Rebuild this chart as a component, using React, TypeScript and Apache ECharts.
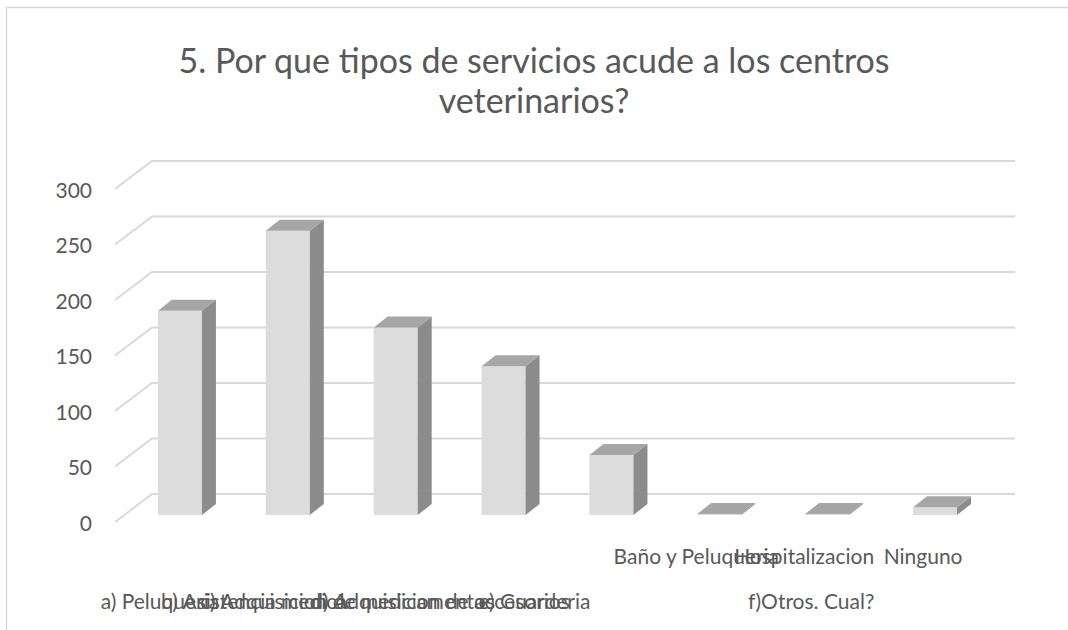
import React, { useEffect, useRef } from "react";
import * as echarts from "echarts";

// ---- data ----
const groupLabels = [
  "a) Peluqueria",
  "b) Asistencia medica",
  "c) Adquisicion de medicamentos",
  "d) Adquisicion de accesorios",
  "e) Guarderia",
  "f)Otros. Cual?",
];
const subLabels = ["", "", "", "", "", "Baño y Peluqueria", "Hospitalizacion", "Ninguno"];
const barGroup = [0, 1, 2, 3, 4, 5, 5, 5];
const values = [184, 256, 169, 134, 54, 1, 1, 7];
const yTicks = [0, 50, 100, 150, 200, 250, 300];
const titleText = "5. Por que tipos de servicios acude a los centros\nveterinarios?";

const categories = subLabels.map((s, i) => s || groupLabels[barGroup[i]]);
// label of a group goes under the middle bar of that group
const groupLabelAt = categories.map((_, i) => {
  const g = barGroup[i];
  const members = barGroup.map((b, j) => (b === g ? j : -1)).filter((j) => j >= 0);
  const mid = members[Math.floor(members.length / 2)];
  return mid === i ? groupLabels[g] : "";
});

// ---- 3D look / label nudges (px to the left) ----
const WALL_DX = 37;
const WALL_DY = -28;
const BAR_DX = 11;
const BAR_DY = -7;
const DEPTH_DX = 14;
const DEPTH_DY = -11;
const BAR_RATIO = 0.408;
const TEXT = "#595959";
const FONT = "Lato";
const LABEL_SIZE = 21;
const subShift = [0, 0, 0, 0, 0, 12, 12, 1];
const groupShift = [9, 23, 37, 52, 66, 0, 5, 0];

const rich = (shifts: number[]) => {
  const r: Record<string, any> = {};
  shifts.forEach((s, i) => {
    r["s" + i] = {
      fontSize: LABEL_SIZE,
      color: TEXT,
      fontFamily: FONT,
      padding: [0, 2 * s, 0, 0],
    };
  });
  return r;
};

export default function App() {
  const ref = useRef<HTMLDivElement>(null);
  useEffect(() => {
    if (!ref.current) return;
    const chart = echarts.init(ref.current, undefined, { renderer: "svg" });
    chart.setOption({
      animation: false,
      backgroundColor: "#ffffff",
      textStyle: { fontFamily: FONT },
      title: {
        text: titleText,
        left: "center",
        top: 34,
        textStyle: { fontFamily: FONT, fontSize: 34, fontWeight: "normal", color: TEXT, lineHeight: 40 },
      },
      graphic: [
        {
          type: "rect",
          shape: { x: 6.5, y: 7.5, width: 1200, height: 800 },
          style: { fill: "none", stroke: "#d9d9d9", lineWidth: 1.5 },
          silent: true,
        },
      ],
      grid: { left: 115, top: 189, width: 863, height: 333 },
      xAxis: [
        {
          type: "category",
          data: categories,
          axisLine: { show: false },
          axisTick: { show: false },
          axisLabel: {
            interval: 0,
            hideOverlap: false,
            margin: 23,
            fontSize: LABEL_SIZE,
            color: TEXT,
            fontFamily: FONT,
            rich: rich(subShift),
            formatter: (_v: string, i: number) => (subLabels[i] ? `{s${i}|${subLabels[i]}}` : ""),
          },
        },
        {
          type: "category",
          data: categories,
          position: "bottom",
          offset: 45,
          axisLine: { show: false },
          axisTick: { show: false },
          axisLabel: {
            interval: 0,
            hideOverlap: false,
            margin: 23,
            fontSize: LABEL_SIZE,
            color: TEXT,
            fontFamily: FONT,
            rich: rich(groupShift),
            formatter: (_v: string, i: number) => (groupLabelAt[i] ? `{s${i}|${groupLabelAt[i]}}` : ""),
          },
        },
      ],
      yAxis: {
        type: "value",
        min: 0,
        max: 300,
        interval: 50,
        axisLine: { show: false },
        axisTick: { show: false },
        splitLine: { show: false },
        axisLabel: { fontSize: LABEL_SIZE, color: TEXT, fontFamily: FONT, margin: 23 },
      },
      series: [
        {
          type: "custom",
          silent: true,
          z: 1,
          data: yTicks.map((t) => [0, t]),
          encode: { x: 0, y: 1 },
          renderItem: (params: any, api: any) => {
            const cs = params.coordSys;
            const p = api.coord([0, api.value(1)]);
            const y = p[1];
            return {
              type: "polyline",
              shape: {
                points: [
                  [cs.x, y],
                  [cs.x + WALL_DX, y + WALL_DY],
                  [cs.x + cs.width + WALL_DX, y + WALL_DY],
                ],
              },
              style: { stroke: "#d9d9d9", lineWidth: 2, fill: "none" },
            };
          },
        },
        {
          type: "custom",
          z: 2,
          data: values.map((v, i) => [i, v]),
          encode: { x: 0, y: 1 },
          renderItem: (_params: any, api: any) => {
            const i = api.value(0);
            const v = api.value(1);
            const base = api.coord([i, 0]);
            const top = api.coord([i, v]);
            const w = api.size([1, 0])[0] * BAR_RATIO;
            const x0 = base[0] + BAR_DX - w / 2;
            const x1 = x0 + w;
            const yb = base[1] + BAR_DY;
            const yt = top[1] + BAR_DY;
            return {
              type: "group",
              children: [
                {
                  type: "polygon",
                  shape: { points: [[x0, yb], [x1, yb], [x1, yt], [x0, yt]] },
                  style: { fill: "#dcdcdc" },
                },
                {
                  type: "polygon",
                  shape: {
                    points: [
                      [x1, yb],
                      [x1 + DEPTH_DX, yb + DEPTH_DY],
                      [x1 + DEPTH_DX, yt + DEPTH_DY],
                      [x1, yt],
                    ],
                  },
                  style: { fill: "#8c8c8c" },
                },
                {
                  type: "polygon",
                  shape: {
                    points: [
                      [x0, yt],
                      [x1, yt],
                      [x1 + DEPTH_DX, yt + DEPTH_DY],
                      [x0 + DEPTH_DX, yt + DEPTH_DY],
                    ],
                  },
                  style: { fill: "#a6a6a6" },
                },
              ],
            };
          },
        },
      ],
    });
    return () => chart.dispose();
  }, []);
  return (
    <div
      ref={ref}
      style={{ position: "fixed", left: 0, top: 0, width: 1068, height: 630 }}
    />
  );
}
